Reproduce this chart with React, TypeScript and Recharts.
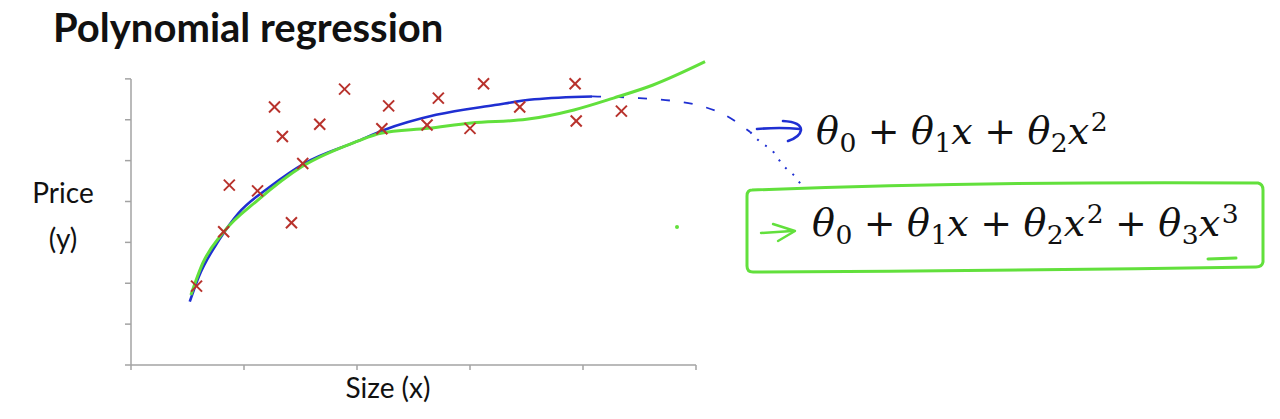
import React from "react";
import {
  ComposedChart,
  Line,
  Scatter,
  XAxis,
  YAxis,
  ReferenceLine,
} from "recharts";

// training examples (size, price)
const sizeX = [0.58, 0.82, 0.87, 1.12, 1.27, 1.34, 1.42, 1.52, 1.67, 1.89, 2.22, 2.28, 2.62, 2.72, 3.0, 3.12, 3.44, 3.93, 3.94, 4.34];
const priceY = [1.93, 3.26, 4.4, 4.26, 6.31, 5.59, 3.48, 4.93, 5.89, 6.75, 5.78, 6.34, 5.87, 6.53, 5.79, 6.88, 6.31, 6.88, 5.97, 6.21];

// quadratic fit (blue)
const quadX = [0.52, 0.6, 0.78, 0.95, 1.23, 1.54, 2.0, 2.24, 2.7, 3.22, 3.57, 4.08];
const quadY = [1.55, 2.16, 3.06, 3.71, 4.36, 4.94, 5.47, 5.75, 6.12, 6.36, 6.5, 6.57];

// dashed continuation of the quadratic
const quadExtX = [4.08, 4.27, 4.5, 4.8, 5.01, 5.24, 5.48];
const quadExtY = [6.57, 6.56, 6.53, 6.46, 6.36, 6.14, 5.7];

// dotted pointer down to the cubic box
const pointerX = [5.48, 5.58, 5.67, 5.77, 5.88, 5.96];
const pointerY = [5.7, 5.43, 5.26, 4.89, 4.6, 4.28];

// cubic fit (green)
const cubicX = [0.53, 0.635, 0.81, 1.125, 1.51, 2.0, 2.21, 2.63, 3.01, 3.5, 3.92, 4.27, 4.62, 5.08];
const cubicY = [1.71, 2.49, 3.22, 4.04, 4.85, 5.47, 5.67, 5.79, 5.92, 6.01, 6.24, 6.53, 6.85, 7.42];

const xTicks = [0, 1, 2, 3, 4, 5];
const yTicks = [0, 1, 2, 3, 4, 5, 6, 7];

const zip = (xs: number[], ys: number[]) => xs.map((x, i) => ({ x, y: ys[i] }));

const points = zip(sizeX, priceY);
const quad = zip(quadX, quadY);
const quadExt = zip(quadExtX, quadExtY);
const pointer = zip(pointerX, pointerY);
const cubic = zip(cubicX, cubicY);

const BLUE = "#1f2fd2";
const GREEN = "#62e03c";
const RED = "#b8322c";
const GRAY = "#a3a3a3";

const Cross = (props: any) => {
  const { cx, cy } = props;
  const r = 5.5;
  return (
    <g stroke={RED} strokeWidth={2}>
      <line x1={cx - r} y1={cy - r} x2={cx + r} y2={cy + r} />
      <line x1={cx - r} y1={cy + r} x2={cx + r} y2={cy - r} />
    </g>
  );
};

const sub: React.CSSProperties = { fontSize: "0.7em", position: "relative", top: "0.3em", fontStyle: "normal", marginLeft: "0.02em" };
const sup: React.CSSProperties = { fontSize: "0.7em", position: "relative", top: "-0.5em", fontStyle: "normal", marginLeft: "0.06em" };
const plus: React.CSSProperties = { margin: "0 0.3em" };

const Theta = ({ n }: { n: string }) => (
  <>
    <i>θ</i>
    <span style={sub}>{n}</span>
  </>
);

const App = () => {
  const text: React.CSSProperties = { position: "absolute", fontFamily: "Lato, sans-serif", color: "#111", lineHeight: 1, whiteSpace: "nowrap" };
  const formula: React.CSSProperties = { position: "absolute", fontFamily: '"DejaVu Serif", serif', fontSize: 38, lineHeight: "38px", color: "#111", whiteSpace: "nowrap" };

  return (
    <div style={{ position: "absolute", left: 0, top: 0, width: 1280, height: 419, background: "#fff" }}>
      <ComposedChart
        width={1280}
        height={419}
        margin={{ top: 38, right: 19, bottom: 24, left: 0 }}
      >
        <XAxis
          type="number"
          dataKey="x"
          domain={[0, 10]}
          ticks={xTicks}
          tickFormatter={() => ""}
          axisLine={false}
          tickLine={{ stroke: GRAY, strokeWidth: 1.5 }}
          tickSize={5}
          height={30}
        />
        <YAxis
          type="number"
          dataKey="y"
          domain={[0, 8]}
          ticks={yTicks}
          tickFormatter={() => ""}
          axisLine={false}
          tickLine={{ stroke: GRAY, strokeWidth: 1.5 }}
          tickSize={6}
          width={131}
        />
        <ReferenceLine segment={[{ x: 0, y: 0 }, { x: 5, y: 0 }]} stroke={GRAY} strokeWidth={1.5} />
        <ReferenceLine segment={[{ x: 0, y: 0 }, { x: 0, y: 7 }]} stroke={GRAY} strokeWidth={1.5} />
        <Line data={quadExt} dataKey="y" type="monotone" stroke={BLUE} strokeWidth={1.8} strokeDasharray="9 14" dot={false} isAnimationActive={false} />
        <Line data={pointer} dataKey="y" type="monotone" stroke={BLUE} strokeWidth={2} strokeDasharray="2 8" dot={false} isAnimationActive={false} />
        <Scatter data={points} dataKey="y" shape={<Cross />} isAnimationActive={false} />
        <Line data={quad} dataKey="y" type="monotone" stroke={BLUE} strokeWidth={2.6} dot={false} isAnimationActive={false} />
        <Line data={cubic} dataKey="y" type="monotone" stroke={GREEN} strokeWidth={3} dot={false} isAnimationActive={false} />
      </ComposedChart>

      <svg width={1280} height={419} style={{ position: "absolute", left: 0, top: 0, pointerEvents: "none" }}>
        <g fill="none" strokeLinecap="round" strokeLinejoin="round">
          <path d="M 757 129 Q 780 127 800 129" stroke={BLUE} strokeWidth={2.6} />
          <path d="M 783 121 Q 801 122 801 130 Q 800 137 788 141" stroke={BLUE} strokeWidth={2.6} />
          <path d="M 761 233 L 792 231" stroke={GREEN} strokeWidth={2.4} />
          <path d="M 773 224 L 795 231 L 778 241" stroke={GREEN} strokeWidth={2.4} />
          <path d="M 752 190 Q 1000 181 1258 183 Q 1263 184 1263 190 L 1263 262 Q 1262 267 1256 267 Q 1000 271 753 272 Q 747 272 747 266 L 747 196 Q 747 190 752 190 Z" stroke={GREEN} strokeWidth={3} />
          <path d="M 1208 259 L 1236 258" stroke={GREEN} strokeWidth={3} />
        </g>
        <circle cx={677} cy={227} r={2} fill={GREEN} />
      </svg>

      <div style={{ ...text, left: 53, top: 7, fontSize: 40, fontWeight: 700 }}>Polynomial regression</div>
      <div style={{ ...text, left: 13, width: 100, top: 178, fontSize: 28, textAlign: "center" }}>Price</div>
      <div style={{ ...text, left: 13, width: 100, top: 224, fontSize: 28, textAlign: "center" }}>(y)</div>
      <div style={{ ...text, left: 338, width: 100, top: 373, fontSize: 28, textAlign: "center" }}>Size (x)</div>

      <div style={{ ...formula, left: 816, top: 112 }}>
        <Theta n="0" />
        <span style={plus}>+</span>
        <Theta n="1" />
        <i>x</i>
        <span style={plus}>+</span>
        <Theta n="2" />
        <i>x</i>
        <span style={sup}>2</span>
      </div>
      <div style={{ ...formula, left: 812, top: 204 }}>
        <Theta n="0" />
        <span style={plus}>+</span>
        <Theta n="1" />
        <i>x</i>
        <span style={plus}>+</span>
        <Theta n="2" />
        <i>x</i>
        <span style={sup}>2</span>
        <span style={plus}>+</span>
        <Theta n="3" />
        <i>x</i>
        <span style={sup}>3</span>
      </div>
    </div>
  );
};

export default App;
